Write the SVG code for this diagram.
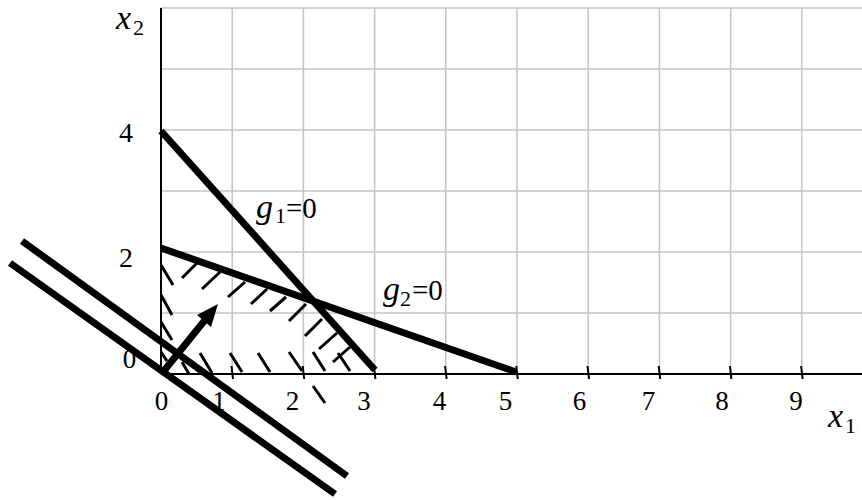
<svg xmlns="http://www.w3.org/2000/svg" width="862" height="500" viewBox="0 0 862 500">
<rect width="862" height="500" fill="#fff"/>
<g id="grid" stroke="#c4c4c4" stroke-width="1.5">
<line x1="232.2" y1="8" x2="232.2" y2="374"/>
<line x1="303.4" y1="8" x2="303.4" y2="374"/>
<line x1="374.6" y1="8" x2="374.6" y2="374"/>
<line x1="445.8" y1="8" x2="445.8" y2="374"/>
<line x1="517" y1="8" x2="517" y2="374"/>
<line x1="588.2" y1="8" x2="588.2" y2="374"/>
<line x1="659.4" y1="8" x2="659.4" y2="374"/>
<line x1="730.6" y1="8" x2="730.6" y2="374"/>
<line x1="801.8" y1="8" x2="801.8" y2="374"/>
<line x1="161" y1="8" x2="862" y2="8"/>
<line x1="161" y1="69" x2="862" y2="69"/>
<line x1="161" y1="130" x2="862" y2="130"/>
<line x1="161" y1="191" x2="862" y2="191"/>
<line x1="161" y1="252" x2="862" y2="252"/>
<line x1="161" y1="313" x2="862" y2="313"/>
</g>
<g id="axes" stroke="#000" stroke-width="2">
<line x1="161" y1="8" x2="161" y2="374"/>
<line x1="161" y1="374" x2="862" y2="374"/>
<line x1="231.5" y1="366" x2="233" y2="379"/>
<line x1="302.7" y1="366" x2="304.2" y2="379"/>
<line x1="373.9" y1="366" x2="375.4" y2="379"/>
<line x1="445.1" y1="366" x2="446.6" y2="379"/>
<line x1="516.3" y1="366" x2="517.8" y2="379"/>
<line x1="587.5" y1="366" x2="589" y2="379"/>
<line x1="658.7" y1="366" x2="660.2" y2="379"/>
<line x1="729.9" y1="366" x2="731.4" y2="379"/>
<line x1="801.1" y1="366" x2="802.6" y2="379"/>
</g>
<text x="161.5" y="410" font-size="27" font-family="Liberation Serif" text-anchor="middle">0</text>
<text x="219" y="410" font-size="27" font-family="Liberation Serif" text-anchor="middle">1</text>
<text x="292.5" y="410" font-size="27" font-family="Liberation Serif" text-anchor="middle">2</text>
<text x="364" y="410" font-size="27" font-family="Liberation Serif" text-anchor="middle">3</text>
<text x="439.5" y="410" font-size="27" font-family="Liberation Serif" text-anchor="middle">4</text>
<text x="505.5" y="410" font-size="27" font-family="Liberation Serif" text-anchor="middle">5</text>
<text x="579.5" y="410" font-size="27" font-family="Liberation Serif" text-anchor="middle">6</text>
<text x="648.5" y="410" font-size="27" font-family="Liberation Serif" text-anchor="middle">7</text>
<text x="722" y="410" font-size="27" font-family="Liberation Serif" text-anchor="middle">8</text>
<text x="796" y="410" font-size="27" font-family="Liberation Serif" text-anchor="middle">9</text>
<text x="126" y="142" font-size="28" font-family="Liberation Serif" text-anchor="middle">4</text>
<text x="126" y="267" font-size="28" font-family="Liberation Serif" text-anchor="middle">2</text>
<text x="129.5" y="368" font-size="27" font-family="Liberation Serif" text-anchor="middle">0</text>
<text x="116" y="29" font-size="34" font-style="italic" font-family="Liberation Serif">x<tspan font-size="22" font-style="normal" x="133" y="35">2</tspan></text>
<text x="828" y="427" font-size="34" font-style="italic" font-family="Liberation Serif">x<tspan font-size="22" font-style="normal" x="845" y="433">1</tspan></text>
<g id="hatching" stroke="#000" stroke-width="3">
<line x1="161" y1="265" x2="173" y2="285"/>
<line x1="161" y1="295" x2="172" y2="315"/>
<line x1="161" y1="322" x2="172" y2="340"/>
<line x1="161" y1="352" x2="167" y2="361"/>
<line x1="182" y1="362" x2="189" y2="374"/>
<line x1="200" y1="353" x2="212" y2="373"/>
<line x1="230" y1="353" x2="242" y2="372"/>
<line x1="258" y1="353" x2="270" y2="372"/>
<line x1="289" y1="352" x2="302" y2="371"/>
<line x1="313" y1="352" x2="325" y2="371"/>
<line x1="338" y1="353" x2="350" y2="371"/>
<line x1="313" y1="386" x2="325" y2="403"/>
<line x1="182" y1="278" x2="200" y2="260"/>
<line x1="202" y1="289" x2="220" y2="272"/>
<line x1="228" y1="297" x2="245" y2="282"/>
<line x1="251" y1="304" x2="267" y2="289"/>
<line x1="270" y1="311" x2="286" y2="297"/>
<line x1="289" y1="321" x2="306" y2="304"/>
<line x1="305" y1="336" x2="322" y2="319"/>
<line x1="319" y1="349" x2="337" y2="333"/>
<line x1="333" y1="362" x2="350" y2="347"/>
</g>
<g id="g1">
<line stroke="#000" stroke-width="7" x1="161" y1="131" x2="375" y2="370"/>
<text x="256" y="218" font-size="34" font-style="italic" font-family="Liberation Serif">g<tspan font-size="22" font-style="normal" x="275" y="223">1</tspan><tspan font-size="29" font-style="normal" x="286" y="218">=0</tspan></text>
</g>
<g id="g2">
<line stroke="#000" stroke-width="7" x1="161" y1="248" x2="516" y2="372"/>
<text x="383" y="300" font-size="34" font-style="italic" font-family="Liberation Serif">g<tspan font-size="22" font-style="normal" x="400" y="306">2</tspan><tspan font-size="29" font-style="normal" x="412" y="300">=0</tspan></text>
</g>
<g id="objective" stroke="#000" stroke-width="7">
<line x1="22" y1="241" x2="347" y2="476"/>
<line x1="10" y1="263" x2="335" y2="494"/>
</g>
<g id="gradient">
<line stroke="#000" stroke-width="7" x1="163" y1="372" x2="205" y2="320"/>
<polygon points="218,304 211,327 197,315" fill="#000"/>
</g>
</svg>
